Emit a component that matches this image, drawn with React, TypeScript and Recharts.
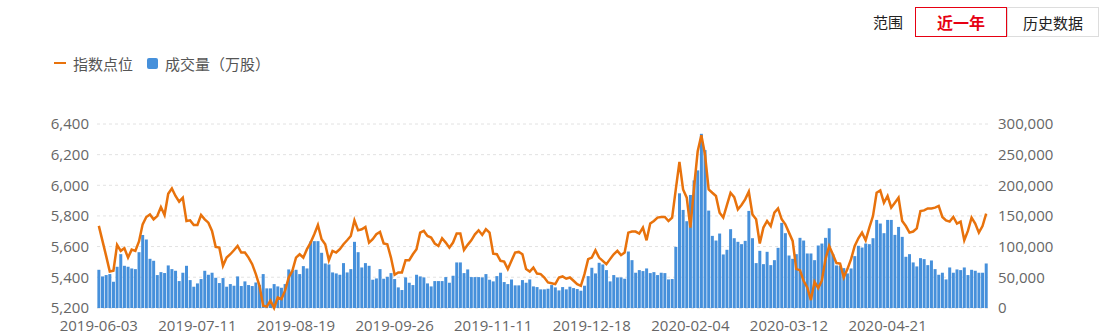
import {
  ComposedChart,
  Bar,
  Line,
  XAxis,
  YAxis,
  CartesianGrid,
} from "recharts";

// trading calendar (SSE/SZSE), 2019-06-03 .. 2020-06-02
const START_DATE = "2019-06-03";
const END_DATE = "2020-06-02";
const HOLIDAYS = [
  "2019-06-07",
  "2019-09-13",
  "2019-10-01",
  "2019-10-02",
  "2019-10-03",
  "2019-10-04",
  "2019-10-07",
  "2020-01-01",
  "2020-01-24",
  "2020-01-27",
  "2020-01-28",
  "2020-01-29",
  "2020-01-30",
  "2020-01-31",
  "2020-04-06",
  "2020-05-01",
  "2020-05-04",
  "2020-05-05",
];

const xTicks = [
  "2019-06-03",
  "2019-07-11",
  "2019-08-19",
  "2019-09-26",
  "2019-11-11",
  "2019-12-18",
  "2020-02-04",
  "2020-03-12",
  "2020-04-21",
];
const leftTicks = [5200, 5400, 5600, 5800, 6000, 6200, 6400];
const rightTicks = [0, 50000, 100000, 150000, 200000, 250000, 300000];

// 指数点位
const indexPoints = [
  5735, 5637, 5539, 5437, 5442, 5611, 5572, 5589, 5528, 5580,
  5572, 5633, 5745, 5793, 5810, 5778, 5799, 5858, 5806, 5945,
  5979, 5930, 5893, 5919, 5767, 5771, 5741, 5741, 5806, 5778,
  5756, 5702, 5598, 5593, 5474, 5528, 5550, 5576, 5604, 5561,
  5561, 5528, 5485, 5420, 5344, 5214, 5208, 5247, 5199, 5268,
  5257, 5312, 5398, 5442, 5528, 5550, 5528, 5583, 5626, 5680,
  5741, 5648, 5615, 5511, 5572, 5561, 5583, 5615, 5641, 5669,
  5771, 5706, 5713, 5728, 5626, 5648, 5680, 5695, 5620, 5615,
  5528, 5416, 5431, 5431, 5511, 5511, 5550, 5583, 5691, 5702,
  5669, 5659, 5620, 5604, 5654, 5626, 5593, 5626, 5685, 5685,
  5578, 5611, 5641, 5680, 5706, 5676, 5713, 5691, 5554, 5550,
  5507, 5502, 5453, 5507, 5561, 5565, 5550, 5453, 5437, 5463,
  5424, 5420, 5398, 5366, 5361, 5355, 5398, 5405, 5390, 5398,
  5377, 5355, 5344, 5420, 5518, 5528, 5576, 5528, 5507, 5485,
  5518, 5550, 5572, 5544, 5561, 5691, 5698, 5698, 5685, 5724,
  5641, 5750, 5767, 5789, 5793, 5793, 5767, 5789, 5973, 6153,
  5973, 5919, 5724, 5984, 6222, 6326, 6201, 5973, 5951, 5930,
  5821, 5789, 5871, 5951, 5923, 5843, 5871, 5908, 5958, 5810,
  5778, 5620, 5724, 5767, 5734, 5821, 5849, 5778, 5745, 5691,
  5637, 5453, 5446, 5377, 5333, 5251, 5370, 5329, 5377, 5518,
  5604, 5550, 5492, 5489, 5398, 5453, 5518, 5604, 5654, 5691,
  5641, 5724, 5799, 5951, 5966, 5886, 5930, 5854, 5886, 5919,
  5767, 5734, 5691, 5698, 5719, 5832, 5836, 5849, 5849, 5854,
  5865, 5793, 5771, 5763, 5793, 5750, 5763, 5641, 5702, 5789,
  5750, 5691, 5734, 5815,
];

// 成交量（万股）
const volumes = [
  62300, 51500, 53700, 55300, 42800, 67200, 87800, 68800, 67200, 64500,
  63400, 91000, 119000, 111700, 80200, 77000, 53700, 58500, 57000, 69400,
  63400, 60700, 43900, 57500, 68800, 45500, 34700, 40100, 47200, 60700,
  54200, 57500, 49300, 40700, 48800, 34700, 39000, 36300, 51500, 35800,
  43400, 37400, 35800, 41700, 37400, 55300, 32000, 32000, 39000, 35200,
  33000, 39000, 62900, 60700, 62300, 55300, 68300, 64500, 108400, 109000,
  109000, 90000, 72600, 71000, 58000, 56400, 54200, 73200, 58000, 63400,
  107900, 91000, 66100, 73200, 68800, 46100, 48200, 63400, 47700, 50900,
  56900, 47200, 33600, 29300, 49900, 41200, 37400, 54200, 51500, 49900,
  40100, 35200, 43900, 43900, 43900, 50400, 41200, 52600, 74300, 74300,
  56900, 62900, 50400, 50400, 50400, 49900, 55300, 46100, 43400, 52000,
  57500, 42300, 39000, 46600, 36900, 36900, 45500, 41200, 46600, 35200,
  34100, 30400, 30400, 31400, 37400, 33600, 28700, 34100, 30400, 34700,
  32500, 30900, 28200, 36300, 52000, 65600, 56400, 73700, 71000, 61800,
  43400, 53700, 49900, 49900, 47700, 92100, 78000, 57500, 61800, 60200,
  64500, 56900, 58500, 53700, 57500, 56900, 46600, 47200, 99700, 187000,
  159900, 141500, 184300, 208100, 224400, 284000, 257500, 158800, 117600, 110000,
  121400, 87300, 94900, 128500, 113800, 107900, 104100, 109500, 158300, 113800,
  73200, 93200, 71500, 91600, 69900, 78000, 98100, 138800, 122000, 85600,
  80200, 87800, 114400, 110000, 88900, 88900, 78000, 101900, 105100, 114400,
  130000, 87800, 69400, 68800, 65000, 56400, 64500, 84600, 101400, 98600,
  105100, 104100, 113800, 143600, 137700, 122000, 143600, 143600, 119200, 132200,
  116000, 83500, 87800, 74300, 67800, 81300, 79700, 69900, 77500, 63400,
  54200, 57500, 46600, 66100, 57500, 62900, 61800, 66100, 53700, 62300,
  60700, 57500, 57500, 72600,
];

function tradingDays(start: string, end: string, holidays: string[]) {
  const out: string[] = [];
  const d = new Date(start + "T00:00:00Z");
  const last = new Date(end + "T00:00:00Z");
  while (d <= last) {
    const day = d.getUTCDay();
    const s = d.toISOString().slice(0, 10);
    if (day !== 0 && day !== 6 && !holidays.includes(s)) out.push(s);
    d.setUTCDate(d.getUTCDate() + 1);
  }
  return out;
}

const dates = tradingDays(START_DATE, END_DATE, HOLIDAYS);

const data = volumes.map((v, i) => ({
  date: dates[i],
  index: indexPoints[i],
  volume: v,
}));

const FONT = '"Open Sans", "Noto Sans CJK SC", sans-serif';
const CJK = '"Noto Sans CJK SC", sans-serif';
const fmt = (v: number) => v.toLocaleString("en-US");

export default function App() {
  return (
    <div
      style={{
        position: "absolute",
        left: 0,
        top: 0,
        width: 1105,
        height: 336,
        background: "#fff",
        fontFamily: FONT,
        overflow: "hidden",
      }}
    >
      <ComposedChart
        width={1105}
        height={336}
        data={data}
        margin={{ top: 124, right: 0, bottom: 0, left: 0 }}
        barCategoryGap="10%"
      >
        <CartesianGrid
          yAxisId="left"
          vertical={false}
          stroke="#e2e2e2"
          strokeDasharray="3 3"
        />
        <XAxis
          dataKey="date"
          ticks={xTicks}
          interval={0}
          height={28}
          axisLine={false}
          tickLine={false}
          tickMargin={6}
          tick={{ fill: "#666", fontSize: 15 }}
        />
        <YAxis
          yAxisId="left"
          orientation="left"
          domain={[5200, 6400]}
          ticks={leftTicks}
          width={97}
          axisLine={false}
          tickLine={false}
          tickFormatter={fmt}
          tick={{ fill: "#666", fontSize: 15 }}
        />
        <YAxis
          yAxisId="right"
          orientation="right"
          domain={[0, 300000]}
          ticks={rightTicks}
          width={117}
          axisLine={false}
          tickLine={false}
          tickMargin={4}
          tickFormatter={fmt}
          tick={{ fill: "#666", fontSize: 15, textAnchor: "start" }}
        />
        <Bar
          yAxisId="right"
          dataKey="volume"
          name="成交量（万股）"
          fill="#4690db"
          isAnimationActive={false}
        />
        <Line
          yAxisId="left"
          dataKey="index"
          name="指数点位"
          type="linear"
          stroke="#e8720c"
          strokeWidth={2.5}
          dot={false}
          activeDot={false}
          isAnimationActive={false}
        />
      </ComposedChart>

      {/* legend */}
      <div
        style={{
          position: "absolute",
          left: 54,
          top: 53,
          height: 20,
          display: "flex",
          alignItems: "center",
          fontFamily: CJK,
          fontSize: 15,
          color: "#555",
        }}
      >
        <span
          style={{
            display: "inline-block",
            width: 12,
            height: 2,
            background: "#e8720c",
            marginRight: 7,
          }}
        />
        <span>指数点位</span>
        <span
          style={{
            display: "inline-block",
            width: 11,
            height: 11,
            borderRadius: 2,
            background: "#4690db",
            marginLeft: 14,
            marginRight: 7,
          }}
        />
        <span>成交量（万股）</span>
      </div>

      {/* range switch */}
      <div
        style={{
          position: "absolute",
          left: 873,
          top: 12,
          fontFamily: CJK,
          fontSize: 15,
          color: "#222",
          lineHeight: "20px",
        }}
      >
        范围
      </div>
      <div
        style={{
          position: "absolute",
          left: 915,
          top: 7,
          width: 90,
          height: 28,
          border: "1px solid #e60012",
          display: "flex",
          alignItems: "center",
          justifyContent: "center",
          fontFamily: CJK,
          fontSize: 16,
          fontWeight: 700,
          color: "#e60012",
        }}
      >
        近一年
      </div>
      <div
        style={{
          position: "absolute",
          left: 1007,
          top: 7,
          width: 90,
          height: 28,
          border: "1px solid #ddd",
          display: "flex",
          alignItems: "center",
          justifyContent: "center",
          fontFamily: CJK,
          fontSize: 15,
          color: "#222",
        }}
      >
        历史数据
      </div>
    </div>
  );
}
